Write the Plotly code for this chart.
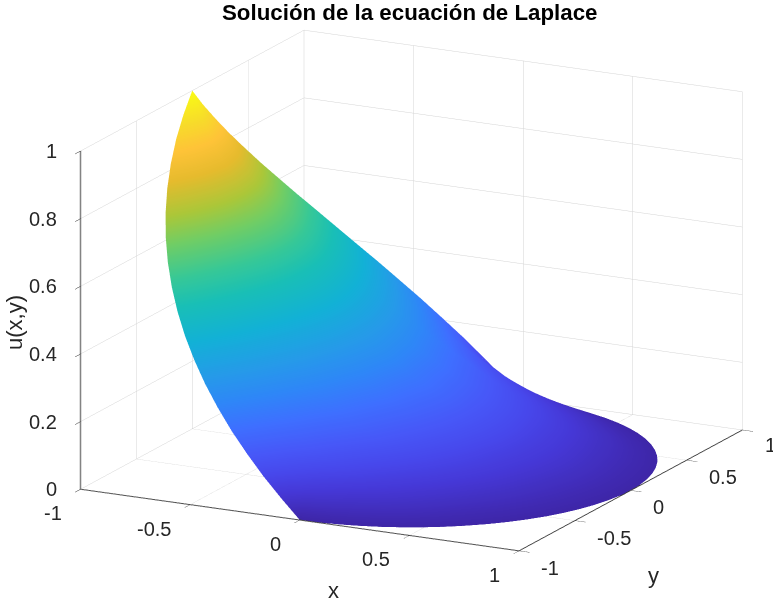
import numpy as np
import plotly.graph_objects as go

title_text = "Solución de la ecuación de Laplace"
x_label, y_label, z_label = "x", "y", "u(x,y)"
tick_vals_xy = [-1, -0.5, 0, 0.5, 1]
tick_text_xy = ["-1", "-0.5", "0", "0.5", "1"]
tick_vals_z = [0, 0.2, 0.4, 0.6, 0.8, 1]
tick_text_z = ["0", "0.2", "0.4", "0.6", "0.8", "1"]

# angle measured from the -x direction, degrees (half turn; the surface is mirrored about y=0)
phi_deg = [5 * i for i in range(37)]
radii = [0.0, 0.25, 0.5, 0.75, 0.9, 1.0]
u_r000 = [.250] * 37
u_r025 = [.365, .364, .362, .359, .355, .350, .344, .337, .329, .321, .312, .303, .294, .284, .274, .265, .255, .246, .237,
          .229, .221, .213, .206, .200, .194, .188, .183, .179, .175, .172, .169, .166, .164, .163, .162, .161, .161]
u_r050 = [.510, .508, .503, .494, .482, .467, .450, .431, .411, .389, .367, .344, .321, .298, .276, .255, .235, .216, .199,
          .183, .169, .157, .146, .137, .129, .122, .116, .111, .107, .103, .100, .097, .095, .094, .093, .092, .092]
u_r075 = [.697, .691, .678, .655, .629, .597, .562, .525, .488, .450, .411, .372, .332, .293, .255, .219, .186, .156, .131,
          .111, .095, .083, .074, .067, .061, .057, .053, .050, .048, .046, .044, .042, .041, .040, .040, .040, .040]
u_r090 = [.845, .829, .804, .763, .720, .673, .626, .579, .531, .482, .432, .382, .333, .285, .236, .189, .143, .103, .070,
          .050, .038, .033, .030, .027, .024, .021, .019, .018, .018, .017, .017, .016, .016, .015, .015, .015, .015]
u_r100 = [1.00, .944, .889, .833, .778, .722, .667, .611, .556, .500, .444, .389, .333, .278, .222, .167, .111, .056, .000,
          .000, .000, .000, .000, .000, .000, .000, .000, .000, .000, .000, .000, .000, .000, .000, .000, .000, .000]
u_rows = [u_r000, u_r025, u_r050, u_r075, u_r090, u_r100]

parula = [
    [0.000, "rgb(62,38,168)"], [0.063, "rgb(69,55,213)"], [0.111, "rgb(71,71,235)"],
    [0.159, "rgb(71,88,248)"], [0.222, "rgb(62,111,255)"], [0.286, "rgb(46,135,247)"],
    [0.349, "rgb(37,155,232)"], [0.429, "rgb(18,177,214)"], [0.508, "rgb(25,191,182)"],
    [0.571, "rgb(55,200,151)"], [0.651, "rgb(114,205,100)"], [0.714, "rgb(171,199,57)"],
    [0.794, "rgb(230,187,45)"], [0.857, "rgb(254,195,56)"], [0.921, "rgb(247,220,42)"],
    [1.000, "rgb(249,251,21)"],
]

phi = np.radians(phi_deg)
phi_full = np.concatenate([-phi[:0:-1], phi])
u_full = np.array([list(row[:0:-1]) + list(row) for row in u_rows])
r_arr = np.array(radii)[:, None]
X = -r_arr * np.cos(phi_full)[None, :]
Y = -r_arr * np.sin(phi_full)[None, :]

GRID = "rgb(212,212,212)"
INK = "rgb(38,38,38)"
FONT = "Liberation Sans"


def axis(vals, rng, line="rgb(60,60,60)", width=2):
    return dict(
        range=rng, tickmode="array", tickvals=vals, title=dict(text=""), showticklabels=False,
        showgrid=True, gridcolor=GRID, gridwidth=1, zeroline=False,
        showline=True, linecolor=line, linewidth=width, ticks="outside", ticklen=12, tickcolor=INK,
        showbackground=True, backgroundcolor="white", showspikes=False,
    )


fig = go.Figure(go.Surface(
    x=X, y=Y, z=u_full, surfacecolor=u_full, cmin=0, cmax=1, colorscale=parula, showscale=False,
    lighting=dict(ambient=1, diffuse=0, specular=0, roughness=1, fresnel=0),
    contours=dict(x=dict(highlight=False), y=dict(highlight=False), z=dict(highlight=False)),
))


def tick_note(x, y, z, text, anchor, dx, dy):
    return dict(x=x, y=y, z=z, text=text, showarrow=False, xanchor=anchor, yanchor="middle",
                xshift=dx, yshift=dy, font=dict(family=FONT, size=20, color=INK))


tick_notes = (
    [tick_note(v, -1, 0, t, "right", -17, -24) for v, t in zip(tick_vals_xy, tick_text_xy)]
    + [tick_note(1, v, 0, t, "left", 20, -17) for v, t in zip(tick_vals_xy[:-1], tick_text_xy[:-1])]
    + [tick_note(-1, -1, v, t, "right", -22, 0) for v, t in zip(tick_vals_z, tick_text_z)]
)

az, el = np.radians(27), np.radians(16)
d = 1.5
zoom = 1.694


def paper_note(text, px, py, size, color=INK, angle=0):
    return dict(text=text, x=px / 773, y=1 - py / 599, xref="paper", yref="paper",
                xanchor="center", yanchor="middle", showarrow=False, textangle=angle,
                font=dict(family=FONT, size=size, color=color))


fig.update_layout(
    width=773, height=599, margin=dict(l=0, r=0, t=0, b=0),
    paper_bgcolor="white", showlegend=False,
    scene=dict(
        domain=dict(x=[0.0648, 1], y=[0.0301, 1]),
        aspectmode="manual", aspectratio=dict(x=zoom, y=zoom, z=0.715 * zoom),
        camera=dict(
            projection=dict(type="orthographic"),
            eye=dict(x=d * np.cos(el) * np.sin(az), y=-d * np.cos(el) * np.cos(az), z=d * np.sin(el)),
            up=dict(x=0, y=0, z=1),
        ),
        xaxis=axis(tick_vals_xy, [-1, 1]),
        yaxis=axis(tick_vals_xy, [-1, 1]),
        zaxis=axis(tick_vals_z, [0, 1], "rgb(120,120,120)", 3),
        annotations=tick_notes,
    ),
    annotations=[
        paper_note("<b>%s</b>" % title_text, 410, 12, 22.3, "black"),
        paper_note(x_label, 333, 590, 22),
        paper_note(y_label, 653, 575, 22),
        paper_note(z_label, 14, 322, 22, angle=-90),
        paper_note(tick_text_xy[-1], 770, 445, 20),
    ],
)
fig.write_html("out.html", config={"displayModeBar": False}, post_script="document.body.style.margin = '0';")
